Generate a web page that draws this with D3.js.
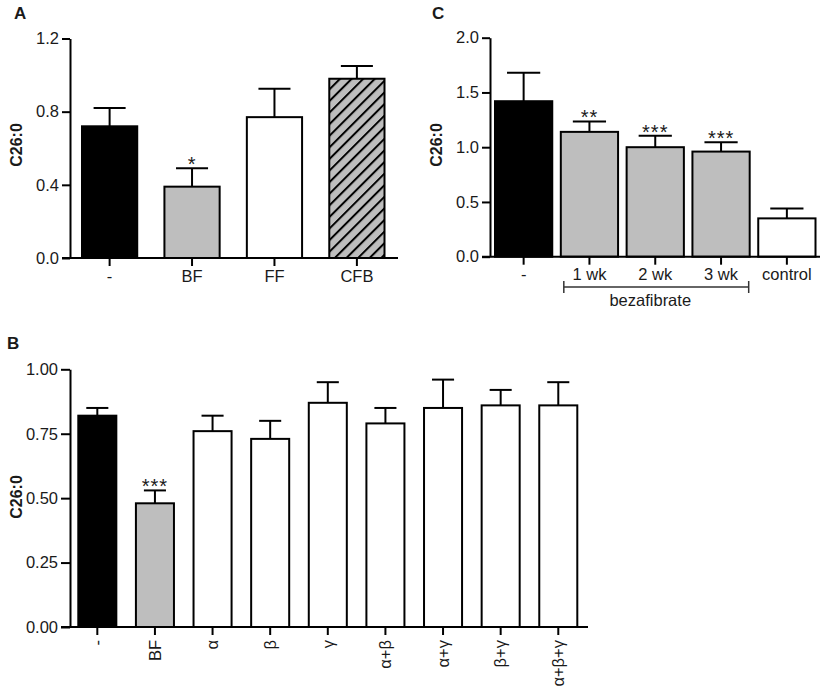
<!DOCTYPE html>
<html>
<head>
<meta charset="utf-8">
<script src="https://cdn.jsdelivr.net/npm/d3@7"></script>
<style>
  html, body { margin: 0; padding: 0; background: #fff; }
  svg { display: block; }
  text { font-family: "Liberation Sans", Arial, Helvetica, sans-serif; fill: #1a1a1a; }
</style>
</head>
<body>
<svg id="chart" width="823" height="688"></svg>
<script>
// ---------- DATA ----------
// Panel A
const catsA  = ["-", "BF", "FF", "CFB"];
const meansA = [0.72, 0.39, 0.77, 0.98];
const errsA  = [0.10, 0.10, 0.155, 0.07];
const sigA   = ["", "*", "", ""];
const ticksA = [0, 0.4, 0.8, 1.2];

// Panel C
const catsC  = ["-", "1 wk", "2 wk", "3 wk", "control"];
const meansC = [1.42, 1.14, 1.00, 0.96, 0.35];
const errsC  = [0.26, 0.095, 0.105, 0.085, 0.09];
const sigC   = ["", "**", "***", "***", ""];
const ticksC = [0, 0.5, 1.0, 1.5, 2.0];
const groupC = ["1 wk", "3 wk"];
const groupLabelC = "bezafibrate";

// Panel B
const catsB  = ["-", "BF", "α", "β", "γ", "α+β", "α+γ", "β+γ", "α+β+γ"];
const meansB = [0.82, 0.48, 0.76, 0.73, 0.87, 0.79, 0.85, 0.86, 0.86];
const errsB  = [0.03, 0.05, 0.06, 0.07, 0.08, 0.06, 0.11, 0.06, 0.09];
const sigB   = ["", "***", "", "", "", "", "", "", ""];
const ticksB = [0, 0.25, 0.50, 0.75, 1.00];

const yLabel = "C26:0";

// ---------- STYLE ----------
const GRAY = "#bebebe";
function fillFor(cat) {
  if (cat === "-") return "#000";
  if (cat === "BF" || cat === "1 wk" || cat === "2 wk" || cat === "3 wk") return GRAY;
  if (cat === "CFB") return "url(#hatch)";
  return "#fff";
}

const svg = d3.select("#chart");

// hatch pattern
const defs = svg.append("defs");
const pat = defs.append("pattern")
  .attr("id", "hatch").attr("patternUnits", "userSpaceOnUse")
  .attr("width", 8.2).attr("height", 8.2)
  .attr("patternTransform", "rotate(45)");
pat.append("rect").attr("width", 8.2).attr("height", 8.2).attr("fill", GRAY);
pat.append("line").attr("x1", 1).attr("y1", 0).attr("x2", 1).attr("y2", 8.2)
  .attr("stroke", "#000").attr("stroke-width", 2);

function drawPanel(o) {
  const g = svg.append("g");
  const data = o.cats.map((c, i) => ({ cat: c, mean: o.means[i], err: o.errs[i], sig: o.sig[i] }));

  const x = d3.scaleBand().domain(o.cats).range([o.x0, o.x1]).paddingInner(o.pad).paddingOuter(0);
  const y = d3.scaleLinear().domain([0, o.ymax]).range([o.yBottom, o.yTop]);
  const bw = x.bandwidth();
  const cap = bw * 0.29;

  // bars
  g.selectAll("rect.bar").data(data).join("rect")
    .attr("class", "bar")
    .attr("x", d => x(d.cat))
    .attr("y", d => y(d.mean))
    .attr("width", bw)
    .attr("height", d => y(0) - y(d.mean))
    .attr("fill", d => fillFor(d.cat))
    .attr("stroke", "#000").attr("stroke-width", 2);

  // error bars (upper only)
  const eb = g.selectAll("g.eb").data(data).join("g").attr("class", "eb");
  eb.append("line")
    .attr("x1", d => x(d.cat) + bw / 2).attr("x2", d => x(d.cat) + bw / 2)
    .attr("y1", d => y(d.mean)).attr("y2", d => y(d.mean + d.err))
    .attr("stroke", "#000").attr("stroke-width", 2);
  eb.append("line")
    .attr("x1", d => x(d.cat) + bw / 2 - cap).attr("x2", d => x(d.cat) + bw / 2 + cap)
    .attr("y1", d => y(d.mean + d.err)).attr("y2", d => y(d.mean + d.err))
    .attr("stroke", "#000").attr("stroke-width", 2);

  // significance stars
  g.selectAll("text.sig").data(data.filter(d => d.sig)).join("text")
    .attr("class", "sig")
    .attr("x", d => x(d.cat) + bw / 2)
    .attr("y", d => y(d.mean + d.err) + 3)
    .attr("text-anchor", "middle")
    .attr("font-size", 20)
    .attr("letter-spacing", 1)
    .text(d => d.sig);

  // y axis
  const ya = g.append("g").attr("transform", `translate(${o.axisX},0)`)
    .call(d3.axisLeft(y).tickValues(o.ticks).tickFormat(d3.format(o.fmt))
      .tickSize(o.ytick).tickSizeOuter(0).tickPadding(3));
  ya.attr("font-size", null).attr("font-family", null);
  ya.select(".domain").attr("stroke", "#000").attr("stroke-width", 2);
  ya.selectAll(".tick line").attr("stroke", "#000").attr("stroke-width", 2);
  ya.selectAll(".tick text").style("font-size", "16.5px").attr("fill", "#1a1a1a");

  // x axis
  const xa = g.append("g").attr("transform", `translate(0,${o.yBottom})`)
    .call(d3.axisBottom(x).tickSize(8).tickSizeOuter(0).tickPadding(4));
  xa.attr("font-size", null).attr("font-family", null);
  xa.select(".domain").remove();
  xa.selectAll(".tick line").attr("stroke", "#000").attr("stroke-width", 2);
  xa.selectAll(".tick text").style("font-size", "16.5px").attr("fill", "#1a1a1a");
  if (o.rotate) {
    xa.selectAll(".tick text")
      .attr("transform", "rotate(-90)")
      .attr("text-anchor", "end")
      .attr("x", -13).attr("y", 0).attr("dy", "0.35em");
  }
  g.append("line")
    .attr("x1", o.axisX - o.ytick).attr("x2", o.xEnd)
    .attr("y1", o.yBottom).attr("y2", o.yBottom)
    .attr("stroke", "#000").attr("stroke-width", 2);

  // y label
  g.append("text")
    .attr("transform", `translate(${o.ylabX},${o.ylabY}) rotate(-90)`)
    .attr("text-anchor", "middle")
    .style("font-size", "16px").attr("font-weight", "bold")
    .text(yLabel);

  // panel letter
  g.append("text")
    .attr("x", o.letterX).attr("y", o.letterY)
    .style("font-size", "17px").attr("font-weight", "bold")
    .text(o.letter);

  return { g, x, y, bw };
}

// Panel A
drawPanel({
  cats: catsA, means: meansA, errs: errsA, sig: sigA, ticks: ticksA, fmt: ".1f",
  x0: 82, x1: 384.5, pad: 0.33, ymax: 1.2, yBottom: 258, yTop: 38.5,
  axisX: 70, xEnd: 398, ytick: 8, ylabX: 22, ylabY: 145, letter: "A", letterX: 14, letterY: 19
});

// Panel C
const pc = drawPanel({
  cats: catsC, means: meansC, errs: errsC, sig: sigC, ticks: ticksC, fmt: ".1f",
  x0: 495, x1: 815.5, pad: 0.13, ymax: 2.0, yBottom: 256.7, yTop: 37.7,
  axisX: 490, xEnd: 820, ytick: 8, ylabX: 442, ylabY: 145, letter: "C", letterX: 432, letterY: 19
});
// bracket for bezafibrate group
{
  const bx1 = pc.x(groupC[0]) + 3;
  const bx2 = pc.x(groupC[1]) + pc.bw - 1;
  const by = 287;
  const bg = pc.g.append("g").attr("stroke", "#333").attr("stroke-width", 1.5);
  bg.append("line").attr("x1", bx1).attr("x2", bx2).attr("y1", by).attr("y2", by);
  bg.append("line").attr("x1", bx1).attr("x2", bx1).attr("y1", by - 6).attr("y2", by + 6);
  bg.append("line").attr("x1", bx2).attr("x2", bx2).attr("y1", by - 6).attr("y2", by + 6);
  pc.g.append("text")
    .attr("x", (bx1 + bx2) / 2 - 6).attr("y", 306)
    .attr("text-anchor", "middle").style("font-size", "16.5px")
    .text(groupLabelC);
}

// Panel B
drawPanel({
  cats: catsB, means: meansB, errs: errsB, sig: sigB, ticks: ticksB, fmt: ".2f",
  x0: 78.3, x1: 577.3, pad: 0.34, ymax: 1.0, yBottom: 627, yTop: 369.3,
  axisX: 70, xEnd: 588, ytick: 9, ylabX: 22, ylabY: 497, letter: "B", letterX: 7, letterY: 349,
  rotate: true
});
</script>
</body>
</html>
